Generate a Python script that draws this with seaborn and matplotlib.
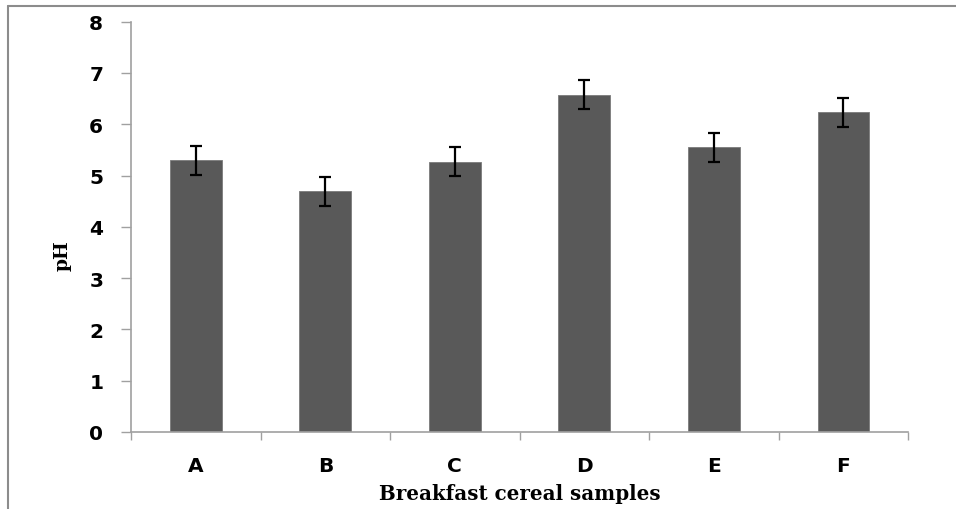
import matplotlib
matplotlib.use("Agg")
import matplotlib.pyplot as plt
import seaborn as sns
import numpy as np
from matplotlib.lines import Line2D
from matplotlib.ticker import FixedLocator

categories = ["A", "B", "C", "D", "E", "F"]
ph_values = [5.30, 4.69, 5.27, 6.58, 5.55, 6.23]
ph_errors = [0.28, 0.28, 0.28, 0.28, 0.28, 0.28]
y_ticks = [0, 1, 2, 3, 4, 5, 6, 7, 8]

sns.set_theme(style="white")
plt.rcParams['font.family'] = ['DejaVu Sans']
plt.rcParams['text.color'] = 'black'
plt.rcParams['axes.labelcolor'] = 'black'
plt.rcParams['xtick.labelcolor'] = 'black'
plt.rcParams['ytick.labelcolor'] = 'black'

fig = plt.figure(figsize=(9.56, 5.10), dpi=100)
ax = fig.add_axes([0.137, 0.151, 0.813, 0.8045])

sns.barplot(x=categories, y=ph_values, color="#595959", saturation=1,
            width=0.4, errorbar=None, ax=ax, edgecolor="#7a7a7a", linewidth=0.6)
ax.errorbar(np.arange(len(categories)), ph_values, yerr=ph_errors, fmt="none",
            ecolor="black", elinewidth=1.6, capsize=4, capthick=1.6)

ax.set_ylim(0, 8)
ax.set_xlim(-0.5, len(categories) - 0.5)
ax.set_yticks(y_ticks)
ax.set_yticklabels([str(t) for t in y_ticks], fontsize=14.5, fontweight="bold")
ax.set_xticklabels(categories, fontsize=14.5, fontweight="bold")

ax.tick_params(axis="y", which="major", direction="out", length=7, width=1,
               color="#a0a0a0", pad=13, left=True, labelcolor="black")
ax.tick_params(axis="x", which="major", length=0, pad=17, labelcolor="black")
ax.xaxis.set_minor_locator(FixedLocator(np.arange(-0.5, len(categories), 1.0)))
ax.tick_params(axis="x", which="minor", direction="out", length=6, width=1,
               color="#a0a0a0", bottom=True)

for s in ["top", "right"]:
    ax.spines[s].set_visible(False)
for s in ["left", "bottom"]:
    ax.spines[s].set_color("#a0a0a0")
    ax.spines[s].set_linewidth(1.2)

ax.set_ylabel("pH", fontsize=13.5, fontweight="bold", family=["DejaVu Serif"], color="black")
ax.yaxis.set_label_coords(-0.076, 0.432)
ax.set_xlabel("Breakfast cereal samples", fontsize=14.3, fontweight="bold",
              family=["DejaVu Serif"], labelpad=6, color="black")

# outer frame lines (top and left)
fig.add_artist(Line2D([8/956, 1.0], [1 - 7/510, 1 - 7/510], color="#8c8c8c", lw=1.5,
                      transform=fig.transFigure))
fig.add_artist(Line2D([8/956, 8/956], [0.0, 1 - 7/510], color="#8c8c8c", lw=1.5,
                      transform=fig.transFigure))

fig.savefig("out.png", dpi=100)
